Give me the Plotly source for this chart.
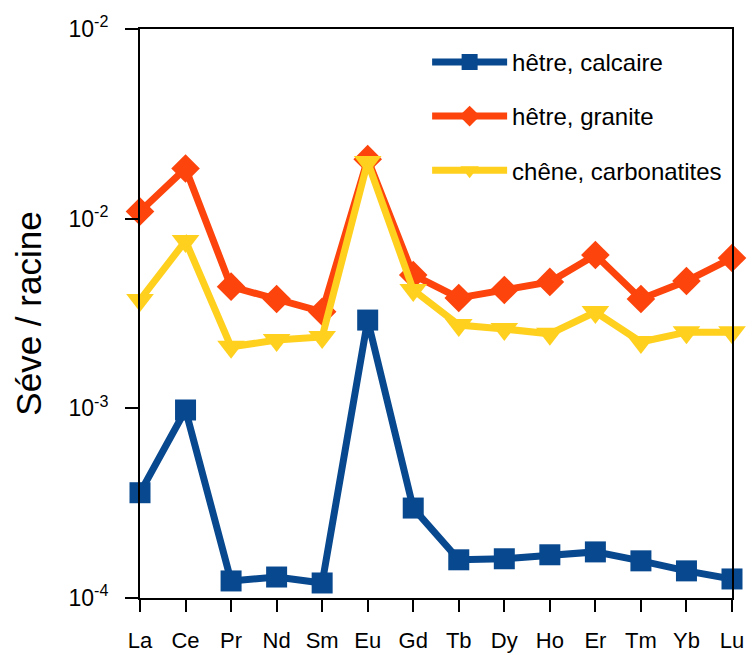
import plotly.graph_objects as go

elements = ['La', 'Ce', 'Pr', 'Nd', 'Sm', 'Eu', 'Gd', 'Tb', 'Dy', 'Ho', 'Er', 'Tm', 'Yb', 'Lu']

hetre_calcaire = [3.59e-4, 9.8e-4, 1.23e-4, 1.29e-4, 1.20e-4, 2.92e-3, 2.98e-4,
                  1.59e-4, 1.61e-4, 1.69e-4, 1.75e-4, 1.57e-4, 1.39e-4, 1.26e-4]
hetre_granite = [1.09e-2, 1.84e-2, 4.38e-3, 3.77e-3, 3.23e-3, 2.06e-2, 5.05e-3,
                 3.82e-3, 4.21e-3, 4.64e-3, 6.43e-3, 3.77e-3, 4.69e-3, 6.20e-3]
chene_carbonatites = [3.73e-3, 7.63e-3, 2.11e-3, 2.29e-3, 2.38e-3, 1.99e-2, 4.21e-3,
                      2.75e-3, 2.62e-3, 2.47e-3, 3.22e-3, 2.24e-3, 2.52e-3, 2.52e-3]

y_tickvals = [1e-4, 1e-3, 1e-2, 1e-1]
# the source figure labels the top tick "10-2" as well
y_ticktext = ['10<sup>-4</sup>', '10<sup>-3</sup>', '10<sup>-2</sup>', '10<sup>-2</sup>']

FONT = 'Arial, Liberation Sans, sans-serif'


def create_plot():
    fig = go.Figure()
    series = [
        ('hêtre, calcaire', hetre_calcaire, 'rgb(8,72,142)', 'square', 21),
        ('hêtre, granite', hetre_granite, 'rgb(252,68,12)', 'diamond', 22),
        ('chêne, carbonatites', chene_carbonatites, 'rgb(255,208,30)', 'triangle-down', 24),
    ]
    for i, (name, vals, color, symbol, size) in enumerate(series):
        fig.add_trace(go.Scatter(
            x=list(range(len(elements))), y=vals, name=name,
            mode='lines+markers', legendgroup=str(i),
            line=dict(color=color, width=7),
            marker=dict(symbol=symbol, size=size, color=color),
            cliponaxis=False,
        ))

    fig.update_layout(
        width=755, height=655,
        margin=dict(l=140, r=23, t=29, b=57),
        plot_bgcolor='white', paper_bgcolor='white',
        font=dict(family=FONT, size=22, color='black'),
        showlegend=True,
        legend=dict(x=0.485, y=0.981, xanchor='left', yanchor='top',
                    bgcolor='rgba(0,0,0,0)', font=dict(size=24),
                    tracegroupgap=20, itemwidth=75),
    )
    fig.update_xaxes(
        range=[0, 13], tickmode='array', tickvals=list(range(len(elements))),
        ticktext=elements, showgrid=False, zeroline=False, automargin=False,
        showline=True, linecolor='black', linewidth=2, mirror=True,
        ticks='outside', ticklen=12, tickwidth=2, tickcolor='black',
        tickfont=dict(size=22), ticklabelstandoff=10,
    )
    fig.update_yaxes(
        type='log', range=[-4, -1], tickmode='array', tickvals=y_tickvals,
        ticktext=y_ticktext, showgrid=False, zeroline=False, automargin=False,
        showline=True, linecolor='black', linewidth=2, mirror=True,
        ticks='outside', ticklen=13, tickwidth=2, tickcolor='black',
        tickfont=dict(size=23), ticklabelstandoff=12,
        title=dict(text='Séve / racine', font=dict(size=35), standoff=16),
    )
    fig.write_html('out.html', config={'displayModeBar': False},
                   post_script="document.body.style.margin='0';")


def main():
    create_plot()


if __name__ == '__main__':
    main()
